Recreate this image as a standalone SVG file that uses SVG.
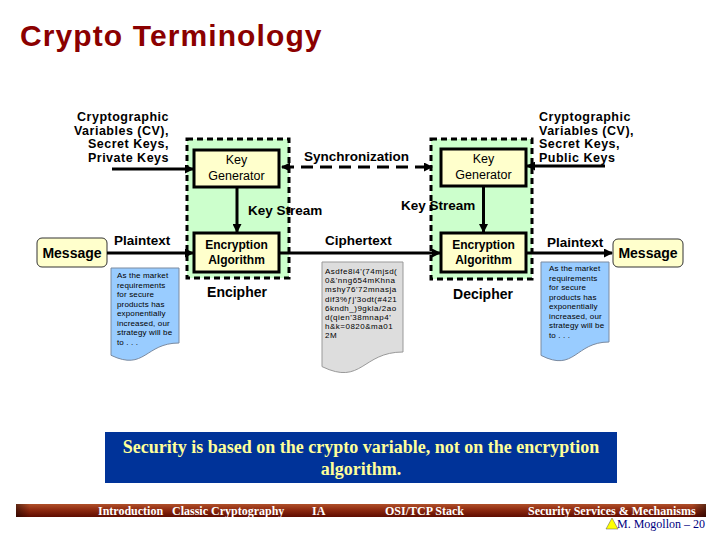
<svg xmlns="http://www.w3.org/2000/svg" width="720" height="540" viewBox="0 0 720 540">
<style>
.lbl{font-family:"Liberation Sans",Arial,sans-serif;font-weight:bold;fill:#000}
.cv{font-size:12.5px;letter-spacing:0.5px}
.box{fill:#FFFFCC;stroke:#000;stroke-width:3}
.grp{fill:#CCFFCC;stroke:#000;stroke-width:3;stroke-dasharray:6 4}
.msg{fill:#FFFFCC;stroke:#333;stroke-width:1}
.doc{fill:#99CCFF;stroke:#7a8aa0;stroke-width:1}
.gdoc{fill:#DDDDDD;stroke:#999;stroke-width:1}
.tiny{font-family:"Liberation Sans",Arial,sans-serif;font-size:8px;fill:#000;letter-spacing:0.15px}
.conn{stroke:#000;stroke-width:3;fill:none}
.foot{font-family:"Liberation Serif","Times New Roman",serif;font-weight:bold;font-size:12px;fill:#fff}
</style>
<defs>
<marker id="ah" markerUnits="userSpaceOnUse" markerWidth="9" markerHeight="9" refX="8" refY="4.5" orient="auto">
<path d="M0,0 L9,4.5 L0,9 Z" fill="#000"/>
</marker>
<marker id="ahs" markerUnits="userSpaceOnUse" markerWidth="9" markerHeight="9" refX="1" refY="4.5" orient="auto">
<path d="M9,0 L0,4.5 L9,9 Z" fill="#000"/>
</marker>
<linearGradient id="bar" x1="0" y1="0" x2="0" y2="1">
<stop offset="0" stop-color="#B0502A"/>
<stop offset="0.45" stop-color="#8E2A10"/>
<stop offset="1" stop-color="#5E0C00"/>
</linearGradient>
<linearGradient id="barh" x1="0" y1="0" x2="1" y2="0">
<stop offset="0" stop-color="#000" stop-opacity="0.45"/>
<stop offset="0.02" stop-color="#000" stop-opacity="0"/>
<stop offset="0.98" stop-color="#000" stop-opacity="0"/>
<stop offset="1" stop-color="#000" stop-opacity="0.45"/>
</linearGradient>
</defs>
<rect width="720" height="540" fill="#fff"/>

<text x="20" y="46" font-family="Liberation Sans,Arial,sans-serif" font-weight="bold" font-size="30" letter-spacing="1.1" fill="#8B0000">Crypto Terminology</text>

<g id="encipher-group">
<rect class="grp" x="187" y="139" width="102" height="139"/>
<text class="lbl" x="237" y="297" font-size="14" text-anchor="middle">Encipher</text>
</g>
<g id="decipher-group">
<rect class="grp" x="431" y="139" width="101" height="140"/>
<text class="lbl" x="483" y="299" font-size="14" text-anchor="middle">Decipher</text>
</g>

<g id="keygen-left">
<rect class="box" x="194" y="150" width="85" height="37"/>
<text x="236.5" y="164" font-family="Liberation Sans,Arial,sans-serif" font-size="12.5" text-anchor="middle">Key</text>
<text x="236.5" y="180" font-family="Liberation Sans,Arial,sans-serif" font-size="12.5" text-anchor="middle">Generator</text>
</g>
<g id="keygen-right">
<rect class="box" x="441" y="149" width="85" height="37"/>
<text x="483.5" y="163" font-family="Liberation Sans,Arial,sans-serif" font-size="12.5" text-anchor="middle">Key</text>
<text x="483.5" y="179" font-family="Liberation Sans,Arial,sans-serif" font-size="12.5" text-anchor="middle">Generator</text>
</g>
<g id="encalg-left">
<rect class="box" x="194" y="233" width="85" height="39"/>
<text class="lbl" x="236.5" y="249" font-size="12" text-anchor="middle">Encryption</text>
<text class="lbl" x="236.5" y="264" font-size="12" text-anchor="middle">Algorithm</text>
</g>
<g id="encalg-right">
<rect class="box" x="441" y="233" width="85" height="39"/>
<text class="lbl" x="483.5" y="249" font-size="12" text-anchor="middle">Encryption</text>
<text class="lbl" x="483.5" y="264" font-size="12" text-anchor="middle">Algorithm</text>
</g>

<g id="message-left">
<rect class="msg" x="37" y="238" width="70" height="29" rx="5"/>
<text class="lbl" x="72" y="258" font-size="14" text-anchor="middle">Message</text>
</g>
<g id="message-right">
<rect class="msg" x="613" y="239" width="70" height="28" rx="5"/>
<text class="lbl" x="648" y="258" font-size="14" text-anchor="middle">Message</text>
</g>

<g id="cv-left">
<text class="lbl cv" text-anchor="end"><tspan x="169" y="121">Cryptographic</tspan><tspan x="169" y="134.5">Variables (CV),</tspan><tspan x="169" y="148">Secret Keys,</tspan><tspan x="169" y="161.5">Private Keys</tspan></text>
</g>
<g id="cv-right">
<text class="lbl cv"><tspan x="539" y="121">Cryptographic</tspan><tspan x="539" y="134.5">Variables (CV),</tspan><tspan x="539" y="148">Secret Keys,</tspan><tspan x="539" y="161.5">Public Keys</tspan></text>
</g>

<g id="plain-doc-left">
<path class="doc" d="M111,268 H179 V343 C145,343 145,371.5 111,355.3 Z"/>
<text class="tiny"><tspan x="117" y="278">As the market</tspan><tspan x="117" y="287.5">requirements</tspan><tspan x="117" y="297">for secure</tspan><tspan x="117" y="306.5">products has</tspan><tspan x="117" y="316">exponentially</tspan><tspan x="117" y="325.5">increased, our</tspan><tspan x="117" y="335">strategy will be</tspan><tspan x="117" y="344.5">to . . .</tspan></text>
</g>
<g id="cipher-doc">
<path class="gdoc" d="M322,262 H403 V352 C362,352 362,386 322,366.6 Z"/>
<text class="tiny" style="letter-spacing:0.5px"><tspan x="325" y="274">Asdfe8i4'(74mjsd(</tspan><tspan x="325" y="283">0&amp;'nng654mKhna</tspan><tspan x="325" y="292">mshy76'72mnasja</tspan><tspan x="325" y="302">dif3%ƒj'3odt(#421</tspan><tspan x="325" y="311">6kndh_)9gkla/2ao</tspan><tspan x="325" y="320">d(qien'38mnap4'</tspan><tspan x="325" y="329">h&amp;k=0820&amp;ma01</tspan><tspan x="325" y="338">2M</tspan></text>
</g>
<g id="plain-doc-right">
<path class="doc" d="M541,262 H609 V342 C575,342 575,372.7 541,355.4 Z"/>
<text class="tiny"><tspan x="549" y="271">As the market</tspan><tspan x="549" y="280.5">requirements</tspan><tspan x="549" y="290">for secure</tspan><tspan x="549" y="299.5">products has</tspan><tspan x="549" y="309">exponentially</tspan><tspan x="549" y="318.5">increased, our</tspan><tspan x="549" y="328">strategy will be</tspan><tspan x="549" y="337.5">to . . .</tspan></text>
</g>

<g id="connectors">
<line class="conn" x1="112" y1="169" x2="193" y2="169" marker-end="url(#ah)"/>
<line class="conn" x1="282" y1="167" x2="432" y2="167" stroke-dasharray="12 7" marker-start="url(#ahs)" marker-end="url(#ah)"/>
<line class="conn" x1="605" y1="166" x2="527" y2="166" marker-end="url(#ah)"/>
<line class="conn" x1="237" y1="187" x2="237" y2="232" marker-end="url(#ah)"/>
<line class="conn" x1="483.5" y1="186" x2="483.5" y2="232" marker-end="url(#ah)"/>
<line class="conn" x1="107" y1="253" x2="193" y2="253" marker-end="url(#ah)"/>
<line class="conn" x1="279" y1="253" x2="440" y2="253" marker-end="url(#ah)"/>
<line class="conn" x1="526" y1="253" x2="612" y2="253" marker-end="url(#ah)"/>
<text class="lbl" x="304" y="161" font-size="13.5">Synchronization</text>
<text class="lbl" x="248" y="215" font-size="13.5">Key Stream</text>
<text class="lbl" x="401" y="210" font-size="13.5">Key Stream</text>
<text class="lbl" x="114" y="245" font-size="13.5">Plaintext</text>
<text class="lbl" x="325" y="245" font-size="13.5">Ciphertext</text>
<text class="lbl" x="547" y="247" font-size="13.5">Plaintext</text>
</g>

<g id="note">
<rect x="105" y="432" width="512" height="51" fill="#003399"/>
<text font-family="Liberation Serif,Times New Roman,serif" font-weight="bold" font-size="18" fill="#FFFF99" text-anchor="middle"><tspan x="361" y="453">Security is based on the crypto variable, not on the encryption</tspan><tspan x="361" y="475">algorithm.</tspan></text>
</g>

<g id="footer">
<rect x="16" y="504" width="690" height="13" fill="url(#bar)"/>
<rect x="16" y="504" width="690" height="13" fill="url(#barh)"/>
<text class="foot" x="98" y="515">Introduction</text>
<text class="foot" x="172" y="515">Classic Cryptography</text>
<text class="foot" x="312" y="515">IA</text>
<text class="foot" x="385" y="515">OSI/TCP Stack</text>
<text class="foot" x="528" y="515">Security Services &amp; Mechanisms</text>
<path d="M606,529 L612,518 L618,529 Z" fill="#FFFF00" stroke="#555" stroke-width="0.5"/>
<text x="617" y="528" font-family="Liberation Serif,Times New Roman,serif" font-size="12" fill="#000080">M. Mogollon – 20</text>
</g>
</svg>
